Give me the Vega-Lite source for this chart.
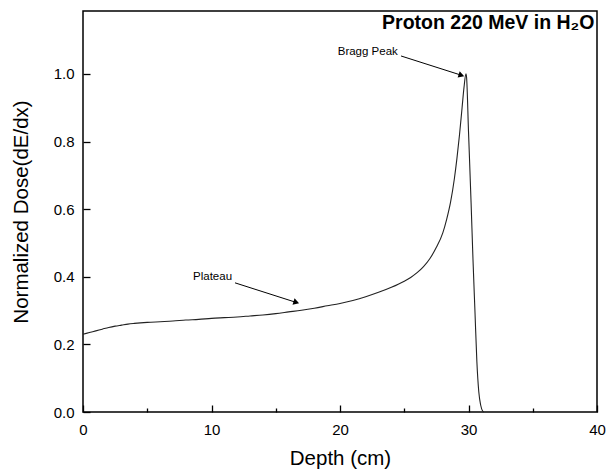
{
  "$schema": "https://vega.github.io/schema/vega-lite/v6.json",
  "width": 514,
  "height": 401,
  "autosize": {"type": "none"},
  "padding": {"left": 83, "top": 11, "right": 11, "bottom": 59},
  "background": "white",
  "config": {
    "font": "Liberation Sans",
    "view": {"stroke": "#000", "strokeWidth": 1.5},
    "axis": {"domain": false, "grid": false, "labelFont": "Liberation Sans", "titleFont": "Liberation Sans", "labelColor": "#000", "titleColor": "#000", "tickColor": "#000", "tickWidth": 1.3, "labelFontSize": 15, "titleFontSize": 20.5, "titleFontWeight": "normal"}
  },
  "datasets": {
    "curve": [
      {"depth": 0, "dose": 0.230}, {"depth": 0.5, "dose": 0.235}, {"depth": 1, "dose": 0.240}, {"depth": 1.5, "dose": 0.245},
      {"depth": 2, "dose": 0.250}, {"depth": 2.5, "dose": 0.254}, {"depth": 3, "dose": 0.257}, {"depth": 3.5, "dose": 0.260},
      {"depth": 4, "dose": 0.262}, {"depth": 5, "dose": 0.265}, {"depth": 6, "dose": 0.267}, {"depth": 7, "dose": 0.269},
      {"depth": 8, "dose": 0.272}, {"depth": 9, "dose": 0.274}, {"depth": 10, "dose": 0.277}, {"depth": 11, "dose": 0.279},
      {"depth": 12, "dose": 0.281}, {"depth": 13, "dose": 0.284}, {"depth": 14, "dose": 0.287}, {"depth": 15, "dose": 0.291},
      {"depth": 16, "dose": 0.296}, {"depth": 17, "dose": 0.301}, {"depth": 18, "dose": 0.307}, {"depth": 19, "dose": 0.314},
      {"depth": 20, "dose": 0.321}, {"depth": 21, "dose": 0.330}, {"depth": 22, "dose": 0.341}, {"depth": 23, "dose": 0.354},
      {"depth": 24, "dose": 0.369}, {"depth": 25, "dose": 0.387}, {"depth": 25.5, "dose": 0.398}, {"depth": 26, "dose": 0.412},
      {"depth": 26.5, "dose": 0.430}, {"depth": 27, "dose": 0.454}, {"depth": 27.5, "dose": 0.487}, {"depth": 28, "dose": 0.53},
      {"depth": 28.3, "dose": 0.57}, {"depth": 28.6, "dose": 0.62}, {"depth": 28.9, "dose": 0.69}, {"depth": 29.1, "dose": 0.75},
      {"depth": 29.3, "dose": 0.82}, {"depth": 29.5, "dose": 0.90}, {"depth": 29.65, "dose": 0.96}, {"depth": 29.8, "dose": 1.0},
      {"depth": 29.85, "dose": 0.99}, {"depth": 30.0, "dose": 0.83}, {"depth": 30.2, "dose": 0.62}, {"depth": 30.35, "dose": 0.45},
      {"depth": 30.5, "dose": 0.30}, {"depth": 30.65, "dose": 0.15}, {"depth": 30.8, "dose": 0.06}, {"depth": 30.95, "dose": 0.02},
      {"depth": 31.1, "dose": 0.003}, {"depth": 31.2, "dose": 0.0}
    ],
    "arrows": [
      {"x1": 24.75, "y1": 1.053, "x2": 29.45, "y2": 0.996, "label": "Bragg Peak", "tx": 24.5, "ty": 1.065},
      {"x1": 11.83, "y1": 0.382, "x2": 16.6, "y2": 0.324, "label": "Plateau", "tx": 11.6, "ty": 0.398}
    ],
    "titles": [
      {"tx": 39.8, "ty": 1.133, "label": "Proton 220 MeV in H₂O"}
    ]
  },
  "layer": [
    {
      "data": {"name": "curve"},
      "mark": {"type": "line", "color": "#222", "strokeWidth": 1.1, "interpolate": "monotone"},
      "encoding": {
        "x": {"field": "depth", "type": "quantitative", "scale": {"domain": [0, 40], "nice": false, "zero": false},
          "axis": {"title": "Depth (cm)", "values": [0, 5, 10, 15, 20, 25, 30, 35, 40],
            "labelExpr": "datum.value % 10 === 0 ? datum.label : ''",
            "tickSize": {"condition": {"test": "datum.value % 10 === 0", "value": -7}, "value": -4},
            "labelPadding": 17, "titlePadding": 11, "labelFlush": false}},
        "y": {"field": "dose", "type": "quantitative", "scale": {"domain": [0, 1.186], "nice": false},
          "axis": {"title": "Normalized Dose(dE/dx)", "values": [0, 0.1, 0.2, 0.3, 0.4, 0.5, 0.6, 0.7, 0.8, 0.9, 1.0, 1.1],
            "labelExpr": "round(datum.value*10) % 2 === 0 ? format(datum.value, '.1f') : ''",
            "tickSize": {"condition": {"test": "round(datum.value*10) % 2 === 0", "value": -7}, "value": -4},
            "labelPadding": 16, "titlePadding": 22, "labelFlush": false}}
      }
    },
    {
      "data": {"name": "arrows"},
      "mark": {"type": "rule", "color": "#000", "strokeWidth": 1},
      "encoding": {
        "x": {"field": "x1", "type": "quantitative"},
        "y": {"field": "y1", "type": "quantitative"},
        "x2": {"field": "x2"},
        "y2": {"field": "y2"}
      }
    },
    {
      "data": {"name": "arrows"},
      "mark": {"type": "point", "shape": "triangle-right", "filled": true, "color": "#000", "size": 45, "angle": 18, "opacity": 1},
      "encoding": {
        "x": {"field": "x2", "type": "quantitative"},
        "y": {"field": "y2", "type": "quantitative"}
      }
    },
    {
      "data": {"name": "arrows"},
      "mark": {"type": "text", "align": "right", "baseline": "middle", "fontSize": 11.5, "font": "Liberation Sans", "color": "#000"},
      "encoding": {
        "x": {"field": "tx", "type": "quantitative"},
        "y": {"field": "ty", "type": "quantitative"},
        "text": {"field": "label"}
      }
    },
    {
      "data": {"name": "titles"},
      "mark": {"type": "text", "align": "right", "baseline": "alphabetic", "fontSize": 19.5, "fontWeight": "bold", "font": "Liberation Sans", "color": "#000"},
      "encoding": {
        "x": {"field": "tx", "type": "quantitative"},
        "y": {"field": "ty", "type": "quantitative"},
        "text": {"field": "label"}
      }
    }
  ]
}
